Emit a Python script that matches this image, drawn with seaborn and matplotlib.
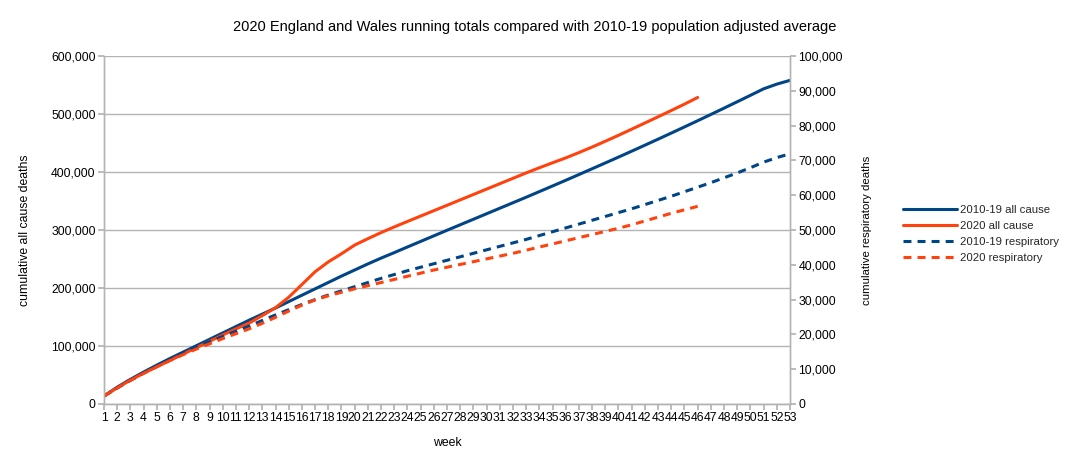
import numpy as np
import pandas as pd
import matplotlib
matplotlib.use("Agg")
import matplotlib.pyplot as plt
import seaborn as sns
from matplotlib.ticker import FuncFormatter

# ── Data (cumulative deaths) ────────────────────────────
weeks_full = list(range(1, 54))
weeks_2020 = list(range(1, 47))

avg_all_cause = [
    13500, 29000, 42500, 55000, 67000, 78500, 89500, 100500, 111500, 122500,
    133500, 144500, 155000, 165500, 176500, 187500, 198500, 209500, 220500, 231000,
    241500, 251500, 261000, 270700, 280300, 289900, 299500, 309000, 318500, 328000,
    337500, 347000, 356500, 366200, 375900, 385700, 395600, 405600, 415600, 425700,
    435900, 446200, 456600, 467100, 477700, 488400, 499200, 510100, 521100, 532200,
    543400, 551500, 558000,
]
all_cause_2020 = [
    13500, 28000, 41000, 53000, 64000, 75000, 86000, 97000, 108000, 119000,
    129500, 139500, 152500, 166000, 184000, 206000, 228000, 245000, 259000, 274000,
    285000, 295500, 305300, 314700, 324000, 333300, 342600, 351900, 361200, 370500,
    379800, 389100, 398400, 407300, 415900, 424300, 433500, 443000, 453000, 463300,
    473800, 484500, 495200, 506000, 517000, 528500,
]
avg_resp = [
    2300, 4600, 6800, 8900, 10900, 12800, 14600, 16300, 17900, 19400,
    20900, 22400, 24000, 25600, 27100, 28600, 30000, 31300, 32500, 33700,
    34900, 36100, 37200, 38300, 39300, 40300, 41300, 42300, 43300, 44300,
    45300, 46300, 47300, 48400, 49500, 50600, 51700, 52800, 53900, 55000,
    56100, 57300, 58500, 59700, 61000, 62300, 63600, 65000, 66400, 67900,
    69500, 70800, 71900,
]
resp_2020 = [
    2300, 4600, 6800, 8800, 10700, 12500, 14200, 15800, 17300, 18800,
    20200, 21600, 23200, 24900, 26700, 28400, 29900, 31100, 32100, 33100,
    34000, 34900, 35800, 36700, 37600, 38500, 39300, 40100, 40900, 41700,
    42500, 43300, 44200, 45100, 46000, 46900, 47800, 48700, 49600, 50500,
    51500, 52600, 53700, 54800, 55800, 56800,
]

BLUE   = "#004586"
ORANGE = "#ff420e"
GRID   = "#b3b3b3"
FS     = 8.8
# ────────────────────────────────────────────────────────

sns.set_theme(style="white")
plt.rcParams["font.family"] = ["Liberation Sans", "DejaVu Sans"]

fig = plt.figure(figsize=(10.69, 4.68), dpi=100)
ax = fig.add_axes([104 / 1069, 64 / 468, 686 / 1069, 348 / 468])
ax2 = ax.twinx()

dash = (0, (2.6, 2.0))

sns.lineplot(x=weeks_full, y=avg_all_cause, ax=ax, color=BLUE, lw=2.2,
             label="2010-19 all cause", legend=False)
sns.lineplot(x=weeks_2020, y=all_cause_2020, ax=ax, color=ORANGE, lw=2.2,
             label="2020 all cause", legend=False)
sns.lineplot(x=weeks_full, y=avg_resp, ax=ax2, color=BLUE, lw=2.2,
             label="2010-19 respiratory", legend=False)
sns.lineplot(x=weeks_2020, y=resp_2020, ax=ax2, color=ORANGE, lw=2.2,
             label="2020 respiratory", legend=False)
for ln in ax2.get_lines():
    ln.set_linestyle(dash)

ax.set_xlim(1, 53)
ax.set_ylim(0, 600000)
ax2.set_ylim(0, 100000)
ax.set_xticks(weeks_full)
ax.set_xticklabels([str(w) for w in weeks_full])
ax.set_yticks(range(0, 600001, 100000))
ax2.set_yticks(range(0, 100001, 10000))

fmt = FuncFormatter(lambda v, p: f"{int(v):,}")
ax.yaxis.set_major_formatter(fmt)
ax2.yaxis.set_major_formatter(fmt)

ax.grid(axis="y", color=GRID, lw=1)
ax.grid(axis="x", visible=False)
ax2.grid(False)

for a in (ax, ax2):
    for side in ("left", "right", "bottom"):
        a.spines[side].set_color(GRID)
        a.spines[side].set_linewidth(1)
    a.spines["top"].set_visible(False)

ax.tick_params(axis="x", bottom=True, direction="out", length=4, color=GRID,
               labelsize=FS, pad=2, labelcolor="black")
ax.tick_params(axis="y", left=True, direction="out", length=4, color=GRID,
               labelsize=FS, pad=2, labelcolor="black")
ax2.tick_params(axis="y", right=True, direction="out", length=4, color=GRID,
                labelsize=FS, pad=2, labelcolor="black")

ax.set_xlabel("week", fontsize=FS, color="black")
ax.set_ylabel("cumulative all cause deaths", fontsize=FS, color="black")
ax2.set_ylabel("cumulative respiratory deaths", fontsize=8.2, color="black")
ax.xaxis.set_label_coords(0.5, -0.095)
ax.yaxis.set_label_coords(-0.106, 0.5)
ax2.yaxis.set_label_coords(1.105, 0.5)

fig.text(0.5, 1 - 27 / 468,
         "2020 England and Wales running totals compared with 2010-19 population adjusted average",
         ha="center", va="center", fontsize=10.5, color="black")

handles = ax.get_lines() + ax2.get_lines()
labels = [h.get_label() for h in handles]
fig.legend(handles, labels, loc="center left", bbox_to_anchor=(0.835, 0.5),
           frameon=False, fontsize=8.2, handlelength=4.75, handletextpad=0.3,
           labelspacing=0.5)

fig.savefig("out.png", dpi=100)
plt.close()
